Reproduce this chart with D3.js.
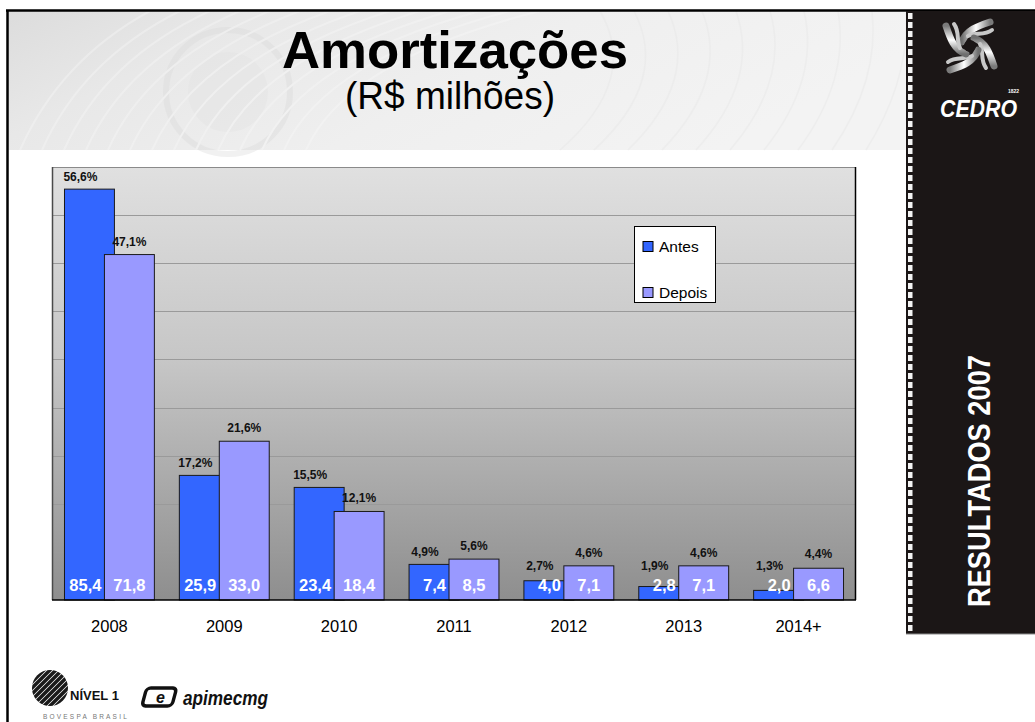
<!DOCTYPE html>
<html>
<head>
<meta charset="utf-8">
<script src="https://cdn.jsdelivr.net/npm/d3@7"></script>
<style>
  html, body { margin: 0; padding: 0; background: #ffffff; }
  svg { display: block; }
  text { font-family: "Liberation Sans", Arial, Helvetica, sans-serif; }
</style>
</head>
<body>
<div id="chart"></div>
<script>
// ---------- data ----------
const categories = ["2008", "2009", "2010", "2011", "2012", "2013", "2014+"];
const seriesNames = ["Antes", "Depois"];
const antesValues = [85.4, 25.9, 23.4, 7.4, 4.0, 2.8, 2.0];
const depoisValues = [71.8, 33.0, 18.4, 8.5, 7.1, 7.1, 6.6];
const antesShare = ["56,6%", "17,2%", "15,5%", "4,9%", "2,7%", "1,9%", "1,3%"];
const depoisShare = ["47,1%", "21,6%", "12,1%", "5,6%", "4,6%", "4,6%", "4,4%"];
const yTicks = [0, 10, 20, 30, 40, 50, 60, 70, 80, 90];
const titleText = "Amortizações";
const subtitleText = "(R$ milhões)";
const sideText = "RESULTADOS 2007";

const colors = { Antes: "#3366ff", Depois: "#9999ff" };
const fmt = v => v.toFixed(1).replace(".", ",");

const W = 1035, H = 722;
const svg = d3.select("#chart").append("svg").attr("width", W).attr("height", H);
const defs = svg.append("defs");

// ---------- header band ----------
const hg = defs.append("linearGradient").attr("id", "hdr").attr("x1", 0).attr("y1", 0).attr("x2", 1).attr("y2", 0.3);
hg.append("stop").attr("offset", "0%").attr("stop-color", "#dcdcdc");
hg.append("stop").attr("offset", "25%").attr("stop-color", "#e8e8e8");
hg.append("stop").attr("offset", "60%").attr("stop-color", "#efefef");
hg.append("stop").attr("offset", "100%").attr("stop-color", "#f3f3f3");
svg.append("rect").attr("x", 8).attr("y", 11).attr("width", 898).attr("height", 139).attr("fill", "url(#hdr)");

// faint texture: button and fabric lines
const tex = svg.append("g").attr("opacity", 0.35);
tex.append("circle").attr("cx", 228).attr("cy", 92).attr("r", 62).attr("fill", "none").attr("stroke", "#d8d8d8").attr("stroke-width", 6);
tex.append("circle").attr("cx", 228).attr("cy", 92).attr("r", 40).attr("fill", "#e2e2e2");
for (let i = 0; i < 14; i++) {
  tex.append("path")
    .attr("d", `M ${20 + i * 22} 150 Q ${60 + i * 22} 60 ${150 + i * 30} 11`)
    .attr("fill", "none").attr("stroke", "#fafafa").attr("stroke-width", 2);
}
for (let i = 0; i < 10; i++) {
  tex.append("path")
    .attr("d", `M ${560 + i * 34} 150 Q ${640 + i * 30} 80 ${600 + i * 34} 11`)
    .attr("fill", "none").attr("stroke", "#e4e4e4").attr("stroke-width", 1.5);
}

// title
svg.append("text").attr("x", 455).attr("y", 68).attr("text-anchor", "middle")
  .attr("font-size", 52).attr("font-weight", "bold").attr("fill", "#000")
  .attr("textLength", 346).attr("lengthAdjust", "spacingAndGlyphs").text(titleText);
svg.append("text").attr("x", 450).attr("y", 109).attr("text-anchor", "middle")
  .attr("font-size", 38).attr("fill", "#000")
  .attr("textLength", 210).attr("lengthAdjust", "spacingAndGlyphs").text(subtitleText);

// ---------- frame lines ----------
svg.append("line").attr("x1", 6).attr("x2", W).attr("y1", 10.5).attr("y2", 10.5).attr("stroke", "#000").attr("stroke-width", 2.5);
svg.append("line").attr("x1", 7.5).attr("x2", 7.5).attr("y1", 10).attr("y2", H).attr("stroke", "#000").attr("stroke-width", 2.5);

// ---------- sidebar ----------
svg.append("rect").attr("x", 906).attr("y", 11).attr("width", W - 906).attr("height", 623).attr("fill", "#1b1616");
svg.append("line").attr("x1", 906).attr("x2", W).attr("y1", 634).attr("y2", 634).attr("stroke", "#8a8a8a").attr("stroke-width", 1);
const dashes = d3.range(13, 630, 9);
svg.append("g").selectAll("rect").data(dashes).join("rect")
  .attr("x", 908).attr("y", d => d).attr("width", 4.5).attr("height", 6).attr("fill", "#f4f4f4");

// knot logo (pinwheel of twisted strands)
const knotG = defs.append("linearGradient").attr("id", "knot").attr("x1", 0).attr("y1", 0).attr("x2", 1).attr("y2", 0);
knotG.append("stop").attr("offset", "0%").attr("stop-color", "#6e6e6e");
knotG.append("stop").attr("offset", "50%").attr("stop-color", "#ffffff");
knotG.append("stop").attr("offset", "100%").attr("stop-color", "#7a7a7a");
const knot = svg.append("g").attr("transform", "translate(970,46)");
[0, 90, 180, 270].forEach(a => {
  const g = knot.append("g").attr("transform", `rotate(${a})`);
  g.append("path").attr("d", "M -8,-4 C -4,-16 8,-20 20,-24")
    .attr("fill", "none").attr("stroke", "url(#knot)").attr("stroke-width", 7).attr("stroke-linecap", "round");
  g.append("path").attr("d", "M -2,-10 C 6,-14 14,-10 22,-16")
    .attr("fill", "none").attr("stroke", "#c8c8c8").attr("stroke-width", 4).attr("stroke-linecap", "round");
});
knot.append("circle").attr("r", 6).attr("fill", "#1b1616");
svg.append("text").attr("x", 940).attr("y", 117).attr("font-size", 24).attr("font-weight", "bold")
  .attr("font-style", "italic").attr("fill", "#ffffff").attr("textLength", 77).attr("lengthAdjust", "spacingAndGlyphs").text("CEDRO");
svg.append("text").attr("x", 1008).attr("y", 93).attr("font-size", 5).attr("font-weight", "bold")
  .attr("fill", "#ffffff").text("1822");

// vertical text
svg.append("text").attr("transform", "translate(990,481) rotate(-90)").attr("text-anchor", "middle")
  .attr("font-family", "'Liberation Sans Narrow', 'DejaVu Sans Condensed', Arial, sans-serif")
  .attr("font-size", 32).attr("font-weight", "bold").attr("fill", "#ffffff")
  .attr("textLength", 252).attr("lengthAdjust", "spacingAndGlyphs").text(sideText);

// ---------- chart ----------
const plot = { left: 52, right: 856, top: 167, bottom: 600 };
const x = d3.scaleBand().domain(categories).range([plot.left, plot.right]).padding(0);
const y = d3.scaleLinear().domain([0, 90]).range([plot.bottom, plot.top]);
const bw = x.bandwidth();
const barW = bw / 2.3;           // gap 50%, overlap 20%
const barX = (cat, s) => x(cat) + 0.25 * barW + (s === 1 ? 0.8 * barW : 0);

const pg = defs.append("linearGradient").attr("id", "plotbg").attr("x1", 0).attr("y1", 0).attr("x2", 0).attr("y2", 1);
pg.append("stop").attr("offset", "0%").attr("stop-color", "#e0e0e0");
pg.append("stop").attr("offset", "45%").attr("stop-color", "#c6c6c6");
pg.append("stop").attr("offset", "100%").attr("stop-color", "#8e8e8e");
svg.append("rect").attr("x", plot.left).attr("y", plot.top).attr("width", plot.right - plot.left)
  .attr("height", plot.bottom - plot.top).attr("fill", "url(#plotbg)");

// gridlines
svg.append("g").selectAll("line").data(yTicks.filter(t => t > 0 && t < 90)).join("line")
  .attr("x1", plot.left).attr("x2", plot.right)
  .attr("y1", d => Math.round(y(d)) + 0.5).attr("y2", d => Math.round(y(d)) + 0.5)
  .attr("stroke", "#9a9a9a").attr("stroke-width", 1);

// borders
svg.append("line").attr("x1", plot.left).attr("x2", plot.right).attr("y1", plot.top + 0.5).attr("y2", plot.top + 0.5).attr("stroke", "#8a8a8a");
svg.append("line").attr("x1", plot.right - 0.5).attr("x2", plot.right - 0.5).attr("y1", plot.top).attr("y2", plot.bottom).attr("stroke", "#000").attr("stroke-width", 1.5);
svg.append("line").attr("x1", plot.left + 0.5).attr("x2", plot.left + 0.5).attr("y1", plot.top).attr("y2", plot.bottom).attr("stroke", "#4a4a4a").attr("stroke-width", 1.5);

const rows = categories.map((c, i) => ({ cat: c, vals: [antesValues[i], depoisValues[i]], shares: [antesShare[i], depoisShare[i]] }));

// bars
const barsG = svg.append("g");
[0, 1].forEach(s => {
  barsG.selectAll(`rect.s${s}`).data(rows).join("rect").attr("class", `s${s}`)
    .attr("x", d => barX(d.cat, s)).attr("y", d => y(d.vals[s]))
    .attr("width", barW).attr("height", d => y(0) - y(d.vals[s]))
    .attr("fill", colors[seriesNames[s]]).attr("stroke", "#1a1a1a").attr("stroke-width", 1);
});

// x axis line
svg.append("line").attr("x1", plot.left).attr("x2", plot.right).attr("y1", plot.bottom).attr("y2", plot.bottom).attr("stroke", "#000").attr("stroke-width", 1.5);

// x axis labels via d3 axis
const xAxis = svg.append("g").attr("transform", `translate(0,${plot.bottom})`)
  .call(d3.axisBottom(x).tickSize(0).tickPadding(20));
xAxis.select(".domain").remove();
xAxis.selectAll("text").attr("font-size", 16.5).attr("fill", "#000")
  .attr("font-family", "'Liberation Sans', Arial, sans-serif").attr("dy", "0.71em");

// value labels (white, inside bars)
svg.append("g").selectAll("text").data(rows).join("text")
  .attr("x", d => barX(d.cat, 0) + barW - 13).attr("y", 591).attr("text-anchor", "end")
  .attr("font-size", 16.5).attr("font-weight", "bold").attr("fill", "#ffffff").text(d => fmt(d.vals[0]));
svg.append("g").selectAll("text").data(rows).join("text")
  .attr("x", d => barX(d.cat, 1) + barW / 2).attr("y", 591).attr("text-anchor", "middle")
  .attr("font-size", 16.5).attr("font-weight", "bold").attr("fill", "#ffffff").text(d => fmt(d.vals[1]));

// share labels
svg.append("g").selectAll("text").data(rows).join("text")
  .attr("x", d => barX(d.cat, 0) + barW / 2 - 9).attr("y", d => Math.min(y(d.vals[0]) - 8, 570))
  .attr("text-anchor", "middle").attr("font-size", 12).attr("font-weight", "bold").attr("fill", "#111").text(d => d.shares[0]);
svg.append("g").selectAll("text").data(rows).join("text")
  .attr("x", d => barX(d.cat, 1) + barW / 2).attr("y", d => Math.min(y(d.vals[1]) - 9, 558))
  .attr("text-anchor", "middle").attr("font-size", 12).attr("font-weight", "bold").attr("fill", "#111").text(d => d.shares[1]);

// legend
const lg = svg.append("g").attr("transform", "translate(634,226)");
lg.append("rect").attr("x", 0.5).attr("y", 0.5).attr("width", 81).attr("height", 76).attr("fill", "#fff").attr("stroke", "#000");
seriesNames.forEach((n, i) => {
  const yy = 15 + i * 46;
  lg.append("rect").attr("x", 9).attr("y", yy + 0.5).attr("width", 10).attr("height", 10)
    .attr("fill", colors[n]).attr("stroke", "#000");
  lg.append("text").attr("x", 25).attr("y", yy + 10.5).attr("font-size", 15.5).attr("fill", "#000").text(n);
});

// ---------- footer logos ----------
const foot = svg.append("g");
const sphereClip = defs.append("clipPath").attr("id", "sph");
sphereClip.append("circle").attr("cx", 50).attr("cy", 688).attr("r", 18);
const sph = foot.append("g").attr("clip-path", "url(#sph)");
sph.append("circle").attr("cx", 50).attr("cy", 688).attr("r", 18).attr("fill", "#fff");
for (let i = -6; i <= 6; i++) {
  sph.append("line").attr("x1", 50 + i * 6 - 20).attr("y1", 708).attr("x2", 50 + i * 6 + 20).attr("y2", 668)
    .attr("stroke", "#1a1a1a").attr("stroke-width", 3.5);
}
foot.append("text").attr("x", 70).attr("y", 700).attr("font-size", 13).attr("font-weight", "bold").attr("fill", "#111").text("NÍVEL 1");
foot.append("text").attr("x", 43).attr("y", 719).attr("font-size", 6.5).attr("fill", "#777")
  .attr("letter-spacing", 2.2).text("BOVESPA BRASIL");
foot.append("rect").attr("x", 146).attr("y", 688).attr("width", 30).attr("height", 18).attr("rx", 4)
  .attr("fill", "none").attr("stroke", "#111").attr("stroke-width", 3.5).attr("transform", "skewX(-15) translate(185,0)");
foot.append("text").attr("x", 156).attr("y", 703).attr("font-size", 16).attr("font-weight", "bold")
  .attr("font-style", "italic").attr("fill", "#111").text("e");
foot.append("text").attr("x", 183).attr("y", 705).attr("font-size", 21).attr("font-weight", "bold")
  .attr("font-style", "italic").attr("fill", "#111").attr("textLength", 85).attr("lengthAdjust", "spacingAndGlyphs").text("apimecmg");
</script>
</body>
</html>
